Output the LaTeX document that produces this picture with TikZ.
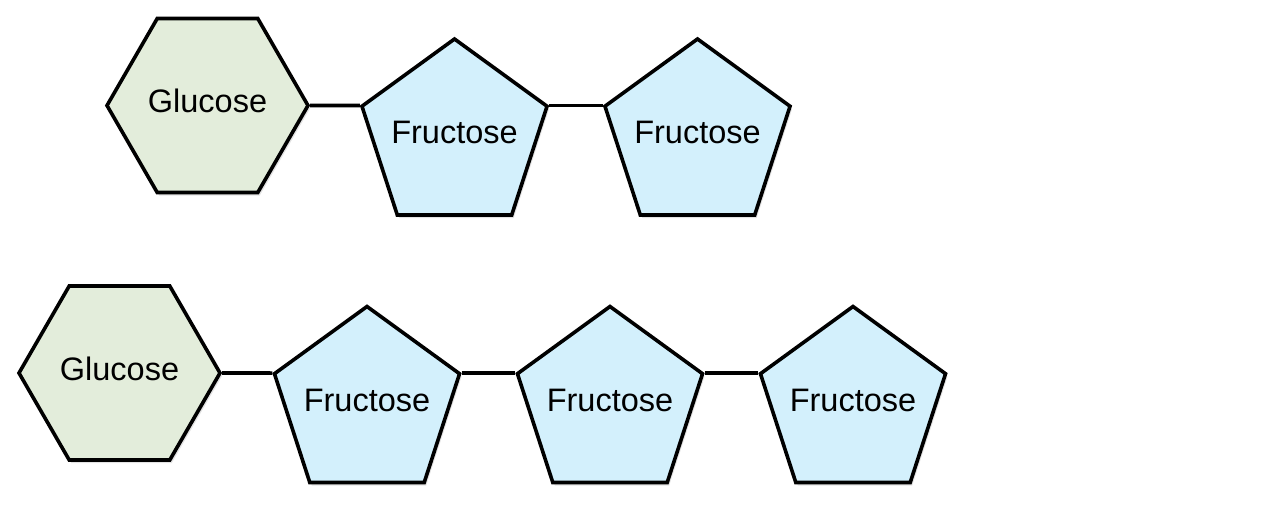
\documentclass[tikz,border=0pt]{standalone}
\usepackage{fontspec}
\setmainfont{Liberation Sans}
\usetikzlibrary{shapes.geometric,shadows}
\definecolor{glufill}{RGB}{227,237,219}
\definecolor{frufill}{RGB}{211,240,252}
\tikzset{
  sugartext/.style={inner sep=0pt, font=\fontsize{32.5}{38}\selectfont,
    text height=23.5pt, text depth=8.7pt},
  sugar/.style={regular polygon, draw=black, line width=3.6pt, inner sep=0pt,
    line join=miter,
    drop shadow={opacity=0.22, shadow xshift=2pt, shadow yshift=-3pt}},
  glucose/.style={sugar, regular polygon sides=6, minimum size=201pt, fill=glufill,
    label={[sugartext]center:Glucose}},
  fructose/.style={sugar, regular polygon sides=5, minimum size=194.6pt, fill=frufill,
    label={[sugartext]center:Fructose}},
  bond/.style={draw=black, line width=3.6pt}
}
\begin{document}
\begin{tikzpicture}[x=1pt,y=-1pt]
\useasboundingbox (0,0) rectangle (1280,504);
% top row
\node[glucose]  (g1) at (207.5,105.5) {};
\node[fructose] (f11) at (454.5,136.3) {};
\node[fructose] (f12) at (697.5,136.3) {};
% bottom row
\node[glucose]  (g2) at (119.5,373) {};
\node[fructose] (f21) at (367,403.8) {};
\node[fructose] (f22) at (610,403.8) {};
\node[fructose] (f23) at (853,403.8) {};
\draw[bond] (g1.east) -- (f11.corner 2);
\draw[bond] (f11.corner 5) -- (f12.corner 2);
\draw[bond] (g2.east) -- (f21.corner 2);
\draw[bond] (f21.corner 5) -- (f22.corner 2);
\draw[bond] (f22.corner 5) -- (f23.corner 2);
\end{tikzpicture}
\end{document}
